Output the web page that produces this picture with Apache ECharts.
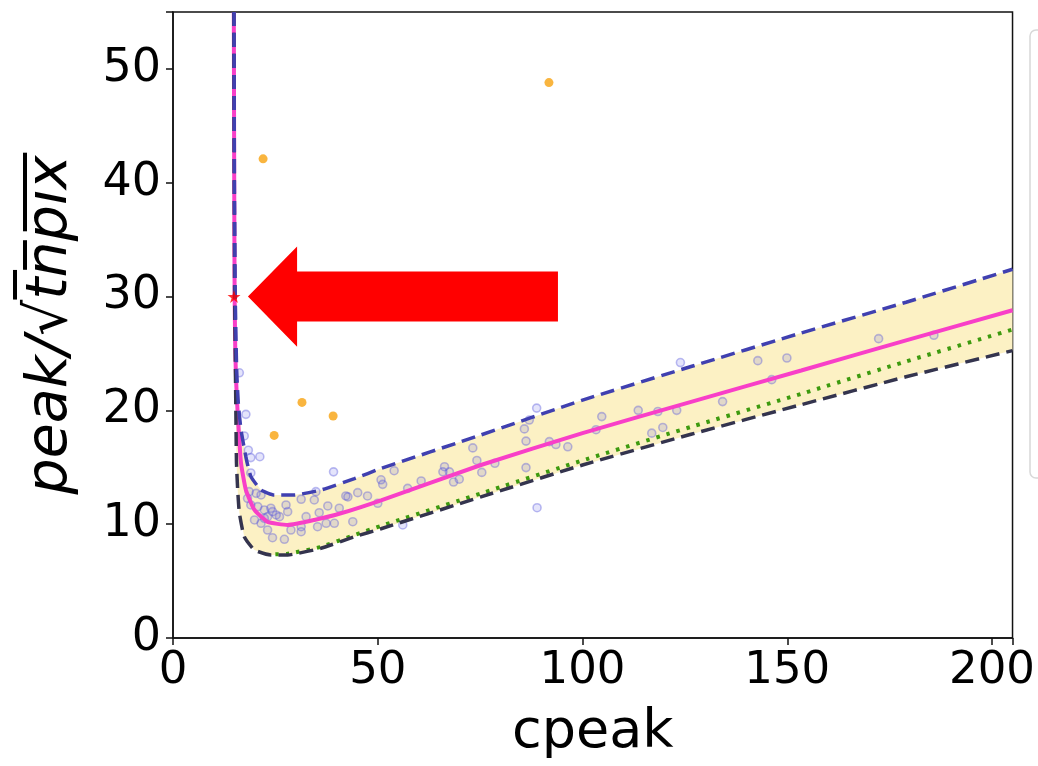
<!DOCTYPE html>
<html>
<head>
<meta charset="utf-8">
<script src="https://cdn.jsdelivr.net/npm/echarts@6/dist/echarts.min.js"></script>
<style>
  html, body { margin: 0; padding: 0; background: #fff; }
  #chart { width: 1038px; height: 766px; }
</style>
</head>
<body>
<div id="chart"></div>
<script>
// fit curve (solid pink)
const pinkX = [14.85, 14.95, 15.05, 15.2, 15.4, 15.8, 16.6, 17.8, 19.9, 23.1, 28.0, 34.5, 41.0, 50.8, 75.2, 100.0, 126.5, 153.4, 179.0, 205.0];
const pinkY = [55, 40, 30, 25.5, 22.7, 19.7, 15.4, 13.0, 11.25, 10.2, 9.93, 10.37, 10.96, 12.1, 15.2, 18.0, 20.75, 23.5, 26.15, 28.8];

// upper bound (dashed blue)
const upperX = [14.9, 15.0, 15.2, 15.55, 15.95, 16.6, 17.8, 19.0, 21.5, 24.7, 29.6, 36.1, 44.3, 50.8, 75.2, 100.0, 126.5, 153.4, 179.0, 205.0];
const upperY = [55, 40, 30, 23.5, 20.6, 18.3, 15.9, 14.2, 13.0, 12.57, 12.57, 13.0, 14.0, 14.9, 17.84, 20.9, 23.85, 26.8, 29.5, 32.4];

// lower bound (dashed dark)
const lowerX = [14.85, 14.95, 15.05, 15.2, 15.35, 15.5, 15.8, 16.2, 17.4, 19.9, 23.9, 28.0, 36.1, 44.3, 50.8, 75.2, 100.0, 126.5, 153.4, 179.0, 205.0];
const lowerY = [55, 40, 30, 25, 20, 15.4, 13.0, 11.0, 8.9, 7.73, 7.3, 7.3, 7.88, 8.9, 9.6, 12.4, 15.2, 17.9, 20.5, 22.95, 25.25];

// dotted green
const greenX = [25.0, 28.0, 36.1, 44.3, 50.8, 75.2, 100.0, 126.5, 153.4, 179.0, 205.0];
const greenY = [7.35, 7.4, 8.0, 9.05, 9.85, 12.7, 15.6, 18.55, 21.45, 24.3, 27.1];

// measured points (faint blue)
const pointX = [16.2, 17.8, 17.4, 18.4, 19.0, 21.2, 19.0, 39.2,
  18.6, 20.3, 21.5, 18.2, 19.0, 20.7, 22.3, 23.9, 24.3, 23.1, 25.2, 26.0, 22.3, 19.9, 21.5,
  27.6, 28.0, 31.3, 34.5, 34.9, 37.8, 40.6, 42.2, 45.1, 47.5, 50.0, 35.7, 32.5, 35.3, 37.4,
  39.4, 43.9, 31.3, 28.8, 23.1, 24.3, 27.2, 31.3, 42.7,
  54.0, 50.8, 51.2, 60.6, 57.3, 66.3, 65.9, 67.5, 68.5, 69.9, 73.2, 74.2, 75.4, 78.6,
  85.8, 86.2, 86.2, 88.8, 88.9, 91.9, 93.5, 96.4, 87.0, 56.1,
  123.9, 142.8, 149.9, 146.2, 134.2, 123.0, 113.6, 118.4, 104.7, 119.6, 116.9, 103.3,
  172.3, 185.8];
const pointY = [23.3, 19.65, 17.75, 16.5, 15.85, 15.93, 14.5, 14.6,
  12.86, 12.71, 12.57, 12.27, 11.69, 11.54, 11.25, 11.4, 11.1, 10.66, 10.81, 10.66, 10.52, 10.37, 10.08,
  11.69, 11.1, 12.19, 12.13, 12.86, 11.6, 11.4, 12.48, 12.77, 12.48, 11.84, 11.01, 10.66, 9.78, 10.08,
  10.08, 10.22, 9.78, 9.49, 9.49, 8.81, 8.67, 9.34, 12.4,
  14.7, 13.9, 13.5, 13.8, 13.15, 15.05, 14.6, 14.6, 13.7, 13.95, 16.7, 15.6, 14.55, 15.35,
  18.37, 17.3, 14.97, 20.2, 11.45, 17.25, 17.0, 16.8, 19.15, 9.93,
  24.2, 24.37, 24.6, 22.7, 20.77, 20.0, 20.0, 19.9, 19.45, 18.5, 18.0, 18.3,
  26.3, 26.6];

// outliers (orange)
const outlierX = [22.0, 91.8, 31.5, 39.1, 24.7];
const outlierY = [42.1, 48.8, 20.7, 19.5, 17.8];

// marked point (red star)
const starX = [14.9];
const starY = [30.0];

// annotation arrow outline, in data units
const arrowX = [18.3, 30.3, 30.3, 94.0, 94.0, 30.3, 30.3];
const arrowY = [30.0, 34.4, 32.2, 32.2, 27.8, 27.8, 25.6];

const xTicks = [0, 50, 100, 150, 200];
const yTicks = [0, 10, 20, 30, 40, 50];

const zip = (xs, ys) => xs.map((x, i) => [x, ys[i]]);
const FONT = "DejaVu Sans";

const bandPts = zip(upperX, upperY).concat(zip(lowerX, lowerY).reverse());
const arrowPts = zip(arrowX, arrowY);

function polygonSeries(points, fill, z) {
  return {
    type: "custom",
    silent: true,
    z: z,
    data: [[0, 0]],
    renderItem: function (params, api) {
      return {
        type: "polygon",
        shape: { points: points.map((p) => api.coord(p)) },
        style: { fill: fill },
      };
    },
  };
}

function lineSeries(xs, ys, color, width, dash, z) {
  return {
    type: "line",
    data: zip(xs, ys),
    showSymbol: false,
    smooth: 0.15,
    z: z,
    lineStyle: { color: color, width: width, type: dash, cap: "butt" },
    silent: true,
  };
}

const chart = echarts.init(document.getElementById("chart"));

chart.setOption({
  animation: false,
  backgroundColor: "#fff",
  textStyle: { fontFamily: FONT },
  grid: {
    left: 173, right: 25, top: 12, bottom: 128,
    show: true, borderColor: "#111", borderWidth: 1.5, backgroundColor: "transparent",
  },
  xAxis: {
    type: "value",
    min: 0, max: 205, interval: 50,
    name: "cpeak",
    nameLocation: "middle",
    nameGap: 68,
    nameTextStyle: { fontSize: 54, color: "#000", fontFamily: FONT },
    axisLine: { show: true, lineStyle: { color: "#111", width: 1.5 } },
    axisTick: { show: true, length: 7, lineStyle: { color: "#111", width: 1.5 } },
    axisLabel: {
      fontSize: 45, color: "#000", margin: 11, fontFamily: FONT,
      formatter: (v) => (xTicks.includes(v) ? String(v) : ""),
    },
    splitLine: { show: false },
  },
  yAxis: {
    type: "value",
    min: 0, max: 55, interval: 10,
    name: "peak/√t̅n̅p̅i̅x̅",
    nameLocation: "middle",
    nameGap: 93,
    nameRotate: 90,
    nameTextStyle: { fontSize: 57, color: "#000", fontStyle: "italic", fontFamily: FONT },
    axisLine: { show: true, lineStyle: { color: "#111", width: 1.5 } },
    axisTick: { show: true, length: 7, lineStyle: { color: "#111", width: 1.5 } },
    axisLabel: {
      fontSize: 46, color: "#000", margin: 12, fontFamily: FONT,
      formatter: (v) => (yTicks.includes(v) ? String(v) : ""),
    },
    splitLine: { show: false },
  },
  graphic: [
    {
      type: "rect",
      shape: { x: 1030, y: 30, width: 40, height: 448, r: 6 },
      style: { fill: "#fff", stroke: "#d8d8d8", lineWidth: 1.5 },
    },
  ],
  series: [
    polygonSeries(bandPts, "#fcf1c4", 1),
    {
      type: "scatter",
      data: zip(pointX, pointY),
      symbolSize: 8,
      z: 2,
      itemStyle: { color: "rgba(90,90,230,0.2)", borderColor: "rgba(90,90,220,0.5)", borderWidth: 1.6 },
      silent: true,
    },
    lineSeries(pinkX, pinkY, "#f83fc8", 4, "solid", 3),
    lineSeries(greenX, greenY, "#3d9a0e", 4, [3.5, 7], 4),
    lineSeries(lowerX, lowerY, "#34344e", 3.5, [14, 7], 5),
    lineSeries(upperX, upperY, "#4040b0", 3.5, [14, 7], 5),
    {
      type: "scatter",
      data: zip(outlierX, outlierY),
      symbolSize: 9,
      z: 6,
      itemStyle: { color: "#f7a30f" },
      silent: true,
    },
    {
      type: "scatter",
      data: zip(starX, starY),
      symbol: "path://M50,0 L61,35 L98,35 L68,57 L79,91 L50,70 L21,91 L32,57 L2,35 L39,35 Z",
      symbolSize: 13,
      z: 7,
      itemStyle: { color: "#ff0000" },
      silent: true,
    },
    polygonSeries(arrowPts, "#ff0000", 8),
  ],
});
</script>
</body>
</html>
